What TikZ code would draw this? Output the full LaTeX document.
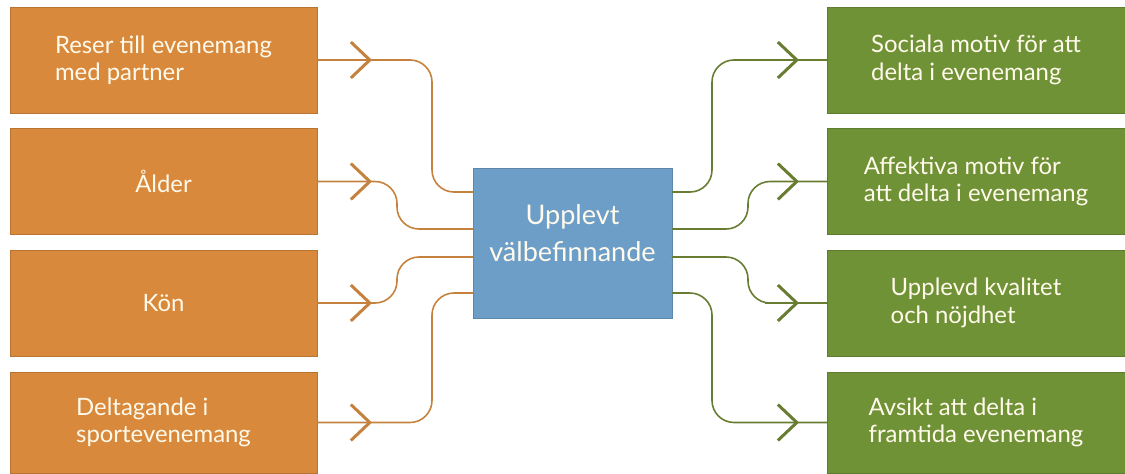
\documentclass[tikz,border=0pt]{standalone}
\usepackage{fontspec}
\setmainfont{Lato}
\usetikzlibrary{arrows.meta, calc}
\definecolor{orangebox}{RGB}{216,137,60}
\definecolor{greenbox}{RGB}{112,146,54}
\definecolor{bluebox}{RGB}{108,158,200}
\definecolor{orangeline}{RGB}{196,130,62}
\definecolor{greenline}{RGB}{104,124,50}
\definecolor{boxtext}{RGB}{255,250,235}
\tikzset{
    box/.style={inner sep=0pt, outer sep=0pt, text=boxtext,
        font=\fontsize{13.6}{15.6}\selectfont},
    leftbox/.style={box, fill=orangebox, draw=orangebox!85!black, line width=0.4pt,
        minimum width=6.14cm, minimum height=2.12cm, align=left},
    rightbox/.style={box, fill=greenbox, draw=greenbox!85!black, line width=0.4pt,
        minimum width=5.96cm, minimum height=2.12cm, align=left},
    midbox/.style={box, fill=bluebox, draw=bluebox!85!black, line width=0.4pt,
        minimum width=3.98cm, minimum height=3cm, align=center, text depth=0.4cm,
        font=\fontsize{15.4}{21}\selectfont},
    link/.style={line width=0.032cm, rounded corners=0.44cm},
    barb/.style={-{Straight Barb[length=0.38cm, width=0.72cm, line width=0.06cm]}}
}
\begin{document}
\begin{tikzpicture}[x=0.02cm, y=-0.02cm]
    \useasboundingbox (0,0) rectangle (1125,473);

    \node [leftbox] (reise) at (163.5,60) {Reser till evenemang\\med partner};
    \node [leftbox] (alder) at (163.5,181.5) {Ålder};
    \node [leftbox] (kon) at (163.5,303) {Kön};
    \node [leftbox, minimum height=2.02cm] (delt) at (163.5,422.5) {Deltagande i\\sportevenemang};

    \node [midbox] (upplevt) at (572.5,243) {Upplevt\\välbefinnande};

    \node [rightbox] (social) at (976,60) {Sociala motiv för att\\delta i evenemang};
    \node [rightbox] (affekt) at (976,181.5) {Affektiva motiv för\\att delta i evenemang};
    \node [rightbox] (kval) at (976,303) {Upplevd kvalitet\\och nöjdhet};
    \node [rightbox, minimum height=2.02cm] (avsikt) at (976,422.5) {Avsikt att delta i\\framtida evenemang};

    \coordinate (in1) at ($(upplevt.north west)+(0,24)$);
    \coordinate (in2) at ($(upplevt.north west)+(0,61)$);
    \coordinate (in3) at ($(upplevt.north west)+(0,89)$);
    \coordinate (in4) at ($(upplevt.north west)+(0,125)$);
    \coordinate (out1) at ($(upplevt.north east)+(0,24)$);
    \coordinate (out2) at ($(upplevt.north east)+(0,61)$);
    \coordinate (out3) at ($(upplevt.north east)+(0,89)$);
    \coordinate (out4) at ($(upplevt.north east)+(0,125)$);
    \coordinate (farL) at (432,0);
    \coordinate (nearL) at (397,0);
    \coordinate (tipL) at (372,0);
    \coordinate (farR) at (712,0);
    \coordinate (nearR) at (748,0);
    \coordinate (tailR) at (765,0);
    \coordinate (tipR) at (799,0);

    \begin{scope}[draw=orangeline]
        \draw [link] (reise.east) -- (reise.east -| farL) -- (farL |- in1) -- (in1);
        \draw [link] (alder.east) -- (alder.east -| nearL) -- (nearL |- in2) -- (in2);
        \draw [link] (kon.east) -- (kon.east -| nearL) -- (nearL |- in3) -- (in3);
        \draw [link] (delt.east) -- (delt.east -| farL) -- (farL |- in4) -- (in4);
        \foreach \n in {reise, alder, kon, delt}
            \draw [link, barb] (\n.east) -- (\n.east -| tipL);
    \end{scope}

    \begin{scope}[draw=greenline]
        \draw [link] (out1) -- (out1 -| farR) -- (farR |- social.west) -- (social.west);
        \draw [link] (out2) -- (out2 -| nearR) -- (nearR |- affekt.west) -- (affekt.west);
        \draw [link] (out3) -- (out3 -| nearR) -- (nearR |- kval.west) -- (kval.west);
        \draw [link] (out4) -- (out4 -| farR) -- (farR |- avsikt.west) -- (avsikt.west);
        \foreach \n in {social, affekt, kval, avsikt}
            \draw [link, barb] (\n.west -| tailR) -- (\n.west -| tipR);
    \end{scope}
\end{tikzpicture}
\end{document}
